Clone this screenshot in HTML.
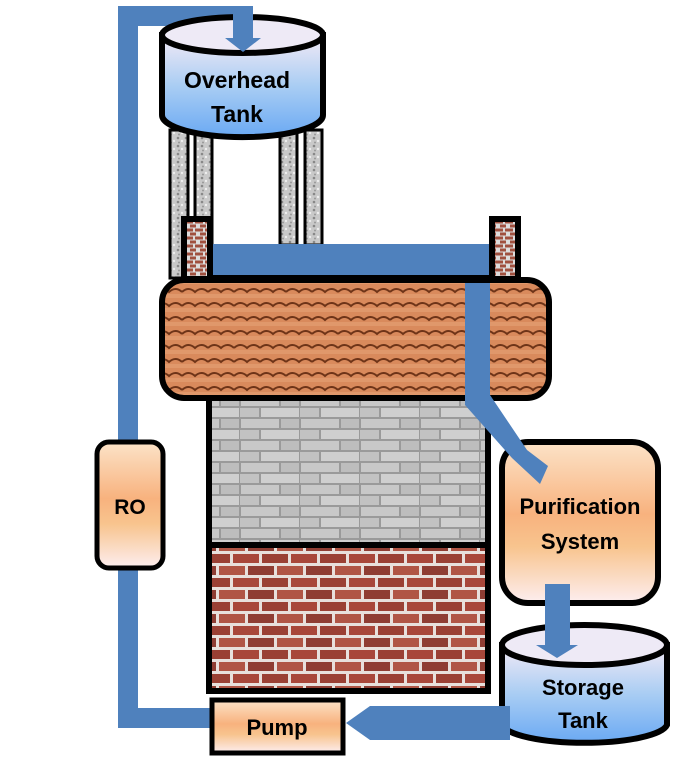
<!DOCTYPE html>
<html><head><meta charset="utf-8"><style>html,body{margin:0;padding:0;background:#fff}svg{display:block}text{font-family:"Liberation Sans",sans-serif;font-weight:bold;fill:#000}</style></head>
<body>
<svg width="697" height="767" viewBox="0 0 697 767" xmlns="http://www.w3.org/2000/svg">
<defs>
<linearGradient id="tank" x1="0" y1="0" x2="0" y2="1"><stop offset="0" stop-color="#f3eaf6"/><stop offset="0.5" stop-color="#a9cdf3"/><stop offset="1" stop-color="#6aa9f3"/></linearGradient>
<linearGradient id="peach" x1="0" y1="0" x2="0" y2="1"><stop offset="0" stop-color="#fce3c8"/><stop offset="0.45" stop-color="#f8b27e"/><stop offset="0.65" stop-color="#f8c48e"/><stop offset="1" stop-color="#fdeef0"/></linearGradient>
<pattern id="gbrick" width="60" height="22" patternUnits="userSpaceOnUse"><rect width="60" height="22" fill="#9a9a9a"/><rect x="1" y="1" width="38" height="9" fill="#c8c8c8"/><rect x="41" y="1" width="18" height="9" fill="#bdbdbd"/><rect x="-9" y="12" width="28" height="9" fill="#c2c2c2"/><rect x="21" y="12" width="38" height="9" fill="#cfcfcf"/></pattern>
<pattern id="rbrick" width="58" height="24" patternUnits="userSpaceOnUse"><rect width="58" height="24" fill="#e8e0dc"/><rect x="1" y="2" width="26" height="9" fill="#a8473a"/><rect x="30" y="2" width="26" height="9" fill="#9a4034"/><rect x="-13" y="14" width="26" height="9" fill="#b05545"/><rect x="16" y="14" width="26" height="9" fill="#8f3d33"/><rect x="45" y="14" width="26" height="9" fill="#b05545"/></pattern>
<pattern id="tile" width="26" height="14" patternUnits="userSpaceOnUse"><rect width="26" height="14" fill="#d98a5c"/><path d="M0 12 Q6.5 6 13 12 Q19.5 6 26 12" stroke="#6e3418" stroke-width="2" fill="none"/><rect x="0" y="0" width="26" height="4" fill="#e8a57a" opacity="0.5"/></pattern>
<pattern id="stone" width="8" height="8" patternUnits="userSpaceOnUse"><rect width="8" height="8" fill="#c9c9c9"/><circle cx="2" cy="2" r="1.3" fill="#888"/><circle cx="6" cy="5" r="1.2" fill="#eee"/><circle cx="3" cy="6.5" r="1" fill="#999"/></pattern>
<pattern id="chim" width="10" height="8" patternUnits="userSpaceOnUse"><rect width="10" height="8" fill="#ddd"/><rect x="0" y="0.5" width="6" height="3" fill="#a0503f"/><rect x="5" y="4.5" width="6" height="3" fill="#a0503f"/><rect x="-1" y="4.5" width="4" height="3" fill="#a0503f"/></pattern>
</defs>

<path d="M118 6 H253 V26 H138 V708 H212 V728 H118 Z" fill="#4f81bd"/>

<g stroke="#000" stroke-width="3" fill="url(#stone)">
<rect x="170" y="130" width="18" height="148"/><rect x="195" y="130" width="17" height="148"/>
<rect x="280" y="130" width="17" height="115"/><rect x="305" y="130" width="17" height="115"/>
</g>

<path d="M162 35 V115 A80 22 0 0 0 323 115 V35 Z" fill="url(#tank)" stroke="#000" stroke-width="6"/>
<ellipse cx="242.5" cy="35" rx="80.5" ry="18" fill="#eeeaf6" stroke="#000" stroke-width="6"/>
<rect x="233" y="6" width="20" height="32" fill="#4f81bd"/>
<polygon points="225,38 261,38 243,52" fill="#4f81bd"/>
<text x="237" y="88" font-size="23" text-anchor="middle">Overhead</text>
<text x="237" y="122" font-size="23" text-anchor="middle">Tank</text>

<rect x="184" y="219" width="26" height="60" fill="url(#chim)" stroke="#000" stroke-width="6"/>
<rect x="492" y="219" width="26" height="60" fill="url(#chim)" stroke="#000" stroke-width="6"/>
<rect x="213" y="244" width="276" height="32" fill="#4f81bd"/>
<line x1="213" y1="277" x2="489" y2="277" stroke="#000" stroke-width="4"/>

<rect x="209" y="398" width="279" height="147" fill="url(#gbrick)" stroke="#000" stroke-width="6"/>
<rect x="209" y="545" width="279" height="146" fill="url(#rbrick)" stroke="#000" stroke-width="6"/>

<rect x="162" y="280" width="387" height="118" rx="22" fill="url(#tile)" stroke="#000" stroke-width="6"/>

<rect x="502" y="442" width="156" height="161" rx="26" fill="url(#peach)" stroke="#000" stroke-width="6"/>
<polygon points="465,283 490,283 490,395 527,450 548,466 540,484 512,458 465,405" fill="#4f81bd"/>
<text x="580" y="514" font-size="22" text-anchor="middle">Purification</text>
<text x="580" y="549" font-size="22" text-anchor="middle">System</text>

<rect x="97" y="442" width="66" height="126" rx="12" fill="url(#peach)" stroke="#000" stroke-width="5"/>
<text x="130" y="514" font-size="21" text-anchor="middle">RO</text>

<path d="M502 645 V725 A83 20 0 0 0 667 725 V645 Z" fill="url(#tank)" stroke="#000" stroke-width="6"/>
<ellipse cx="584.5" cy="645" rx="82.5" ry="20" fill="#eeeaf6" stroke="#000" stroke-width="6"/>
<polygon points="545,584 570,584 570,645 578,645 557,658 536,645 545,645" fill="#4f81bd"/>
<text x="583" y="695" font-size="22" text-anchor="middle">Storage</text>
<text x="583" y="728" font-size="22" text-anchor="middle">Tank</text>

<polygon points="510,706 370,706 346,723 370,740 510,740" fill="#4f81bd"/>

<rect x="212" y="700" width="131" height="53" fill="url(#peach)" stroke="#000" stroke-width="5"/>
<text x="277" y="735" font-size="22" text-anchor="middle">Pump</text>
</svg>
</body></html>
